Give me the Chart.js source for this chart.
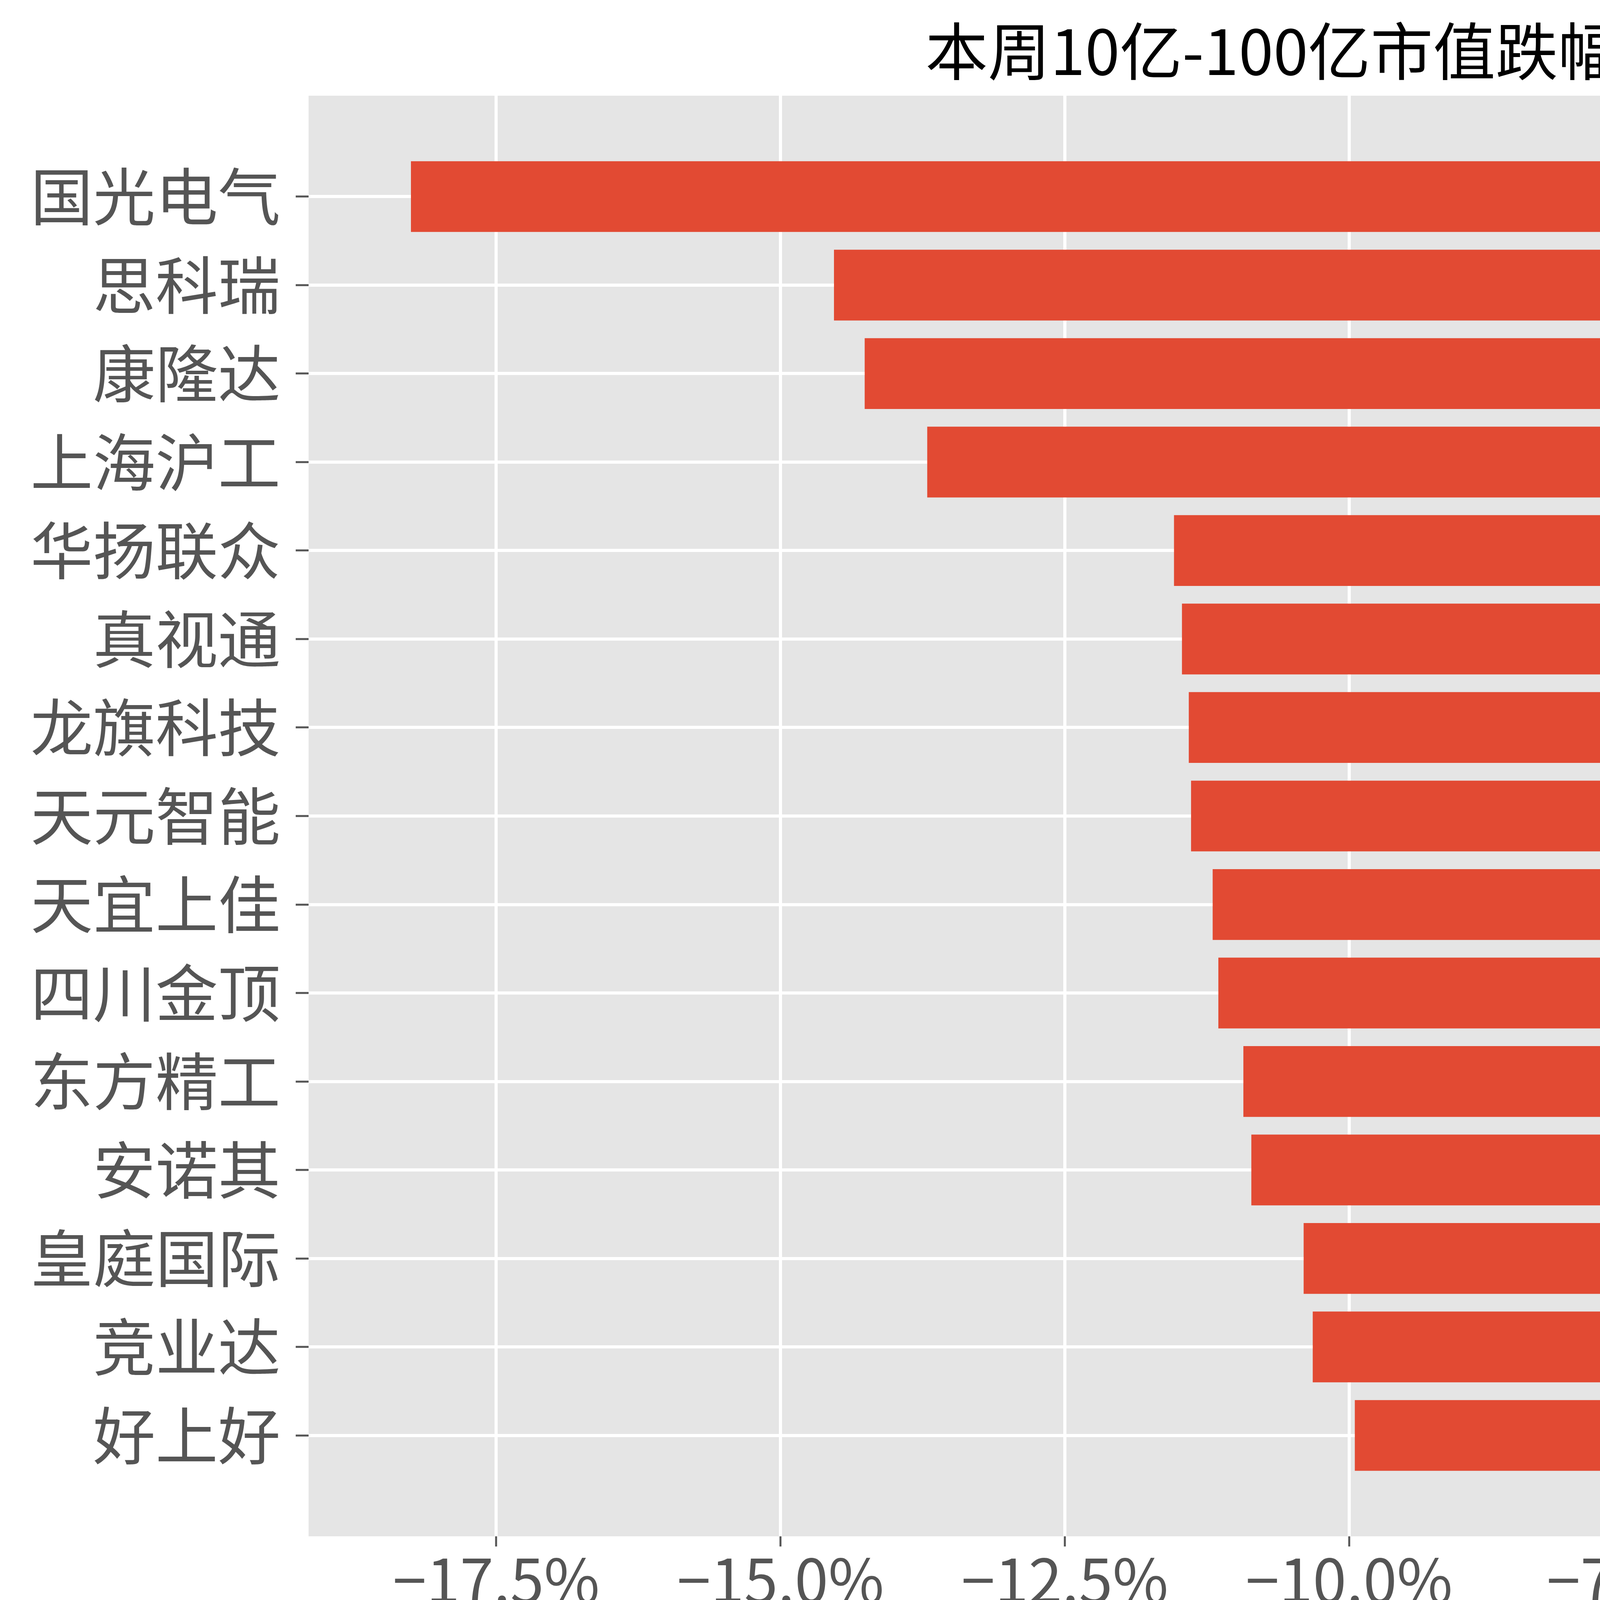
<!DOCTYPE html>
<html>
<head>
<meta charset="utf-8">
<script src="https://cdn.jsdelivr.net/npm/chart.js@4/dist/chart.umd.min.js"></script>
<style>
  html, body { margin: 0; padding: 0; background: #fff; }
  canvas { display: block; }
</style>
</head>
<body>
<canvas id="myChart" width="7149" height="4316"></canvas>
<script>
// stocks, top to bottom
const names = ['国光电气', '思科瑞', '康隆达', '上海沪工', '华扬联众', '真视通', '龙旗科技',
  '天元智能', '天宜上佳', '四川金顶', '东方精工', '安诺其', '皇庭国际', '竞业达', '好上好'];
// weekly change, %
const changes = [-18.25, -14.53, -14.26, -13.71, -11.54, -11.47, -11.41,
  -11.39, -11.20, -11.15, -10.93, -10.86, -10.40, -10.32, -9.95];
const xTicks = [-17.5, -15.0, -12.5, -10.0, -7.5, -5.0, -2.5, 0.0];

const W = 7149, H = 4316;
const plotLeft = 790, plotRight = 6365, plotBottom = 3933;
const fontFamily = '"Noto Sans CJK SC", "Noto Sans", sans-serif';

const bgPlugin = {
  id: 'bg',
  beforeDraw(chart) {
    const ctx = chart.ctx;
    const a = chart.chartArea;
    ctx.save();
    ctx.fillStyle = '#ffffff';
    ctx.fillRect(0, 0, W, H);
    ctx.fillStyle = '#E5E5E5';
    ctx.fillRect(a.left, a.top, a.right - a.left, a.bottom - a.top);
    ctx.restore();
  }
};

function catTicks(scale) {
  scale.ticks = names.map((n, i) => ({ value: i }));
}

const ctx = document.getElementById('myChart');
new Chart(ctx, {
  type: 'bar',
  data: {
    datasets: [{
      data: changes.map((v, i) => ({ x: v, y: i })),
      backgroundColor: '#E24A33',
      borderWidth: 0,
      categoryPercentage: 1.0,
      barPercentage: 0.8
    }]
  },
  options: {
    indexAxis: 'y',
    responsive: false,
    animation: false,
    devicePixelRatio: 1,
    layout: { padding: 0 },
    plugins: {
      legend: { display: false },
      tooltip: { enabled: false },
      title: {
        display: true,
        text: '本周10亿-100亿市值跌幅TOP股票',
        color: '#000000',
        font: { family: fontFamily, size: 160, weight: 'normal' },
        padding: { top: 35, bottom: 18 }
      }
    },
    scales: {
      x: {
        type: 'linear',
        min: -19.15,
        max: 0,
        afterBuildTicks(scale) { scale.ticks = xTicks.map(v => ({ value: v })); },
        afterFit(scale) { scale.height = H - plotBottom; },
        border: { display: false },
        grid: { color: '#ffffff', lineWidth: 8, tickColor: '#555555', tickWidth: 5, tickLength: 26 },
        ticks: {
          color: '#555555',
          padding: -7,
          maxRotation: 0,
          font: { family: fontFamily, size: 155 },
          callback: v => v.toFixed(1).replace('-', '\u2212') + '%'
        },
        title: {
          display: true,
          text: '本周跌幅',
          color: '#555555',
          font: { family: fontFamily, size: 94 },
          padding: { top: 0, bottom: 52 }
        }
      },
      y: {
        type: 'linear',
        position: 'left',
        min: -1.14,
        max: 15.14,
        reverse: true,
        offset: false,
        afterBuildTicks: catTicks,
        afterFit(scale) { scale.width = plotLeft; },
        border: { display: false },
        grid: { offset: false, color: '#ffffff', lineWidth: 8, tickColor: '#555555', tickWidth: 5, tickLength: 33 },
        ticks: {
          color: '#555555',
          padding: 39,
          font: { family: fontFamily, size: 160 },
          callback: v => names[v]
        }
      },
      y2: {
        type: 'linear',
        position: 'right',
        min: -1.14,
        max: 15.14,
        reverse: true,
        offset: false,
        afterBuildTicks: catTicks,
        afterFit(scale) { scale.width = W - plotRight; },
        border: { display: false },
        grid: { display: false, drawTicks: false, offset: false },
        ticks: {
          color: '#555555',
          padding: 65,
          font: { family: fontFamily, size: 160 },
          callback: v => names[v]
        }
      }
    }
  },
  plugins: [bgPlugin]
});
</script>
</body>
</html>
